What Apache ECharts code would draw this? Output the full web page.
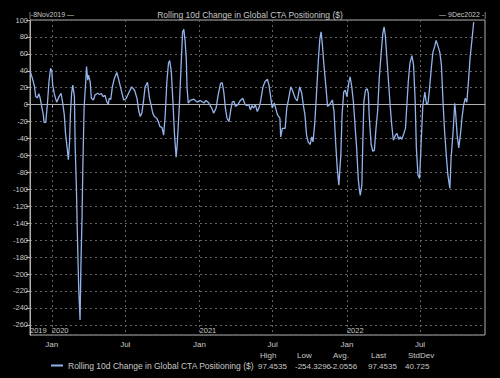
<!DOCTYPE html>
<html><head><meta charset="utf-8">
<script src="https://cdn.jsdelivr.net/npm/echarts@6/dist/echarts.min.js"></script>
<style>html,body{margin:0;padding:0;background:#000}#c{width:500px;height:378px}</style>
</head><body><div id="c"></div>
<script>
const seriesName = 'Rolling 10d Change in Global CTA Positioning ($)';
const rangeStart = '2019-11-08';
const rangeEnd = '2022-12-09';
const rangeLabels = ['|-8Nov2019 \u2014', '\u2014 9Dec2022 -|'];
const dates = [
'2019-11-08','2019-11-14','2019-11-19','2019-11-22','2019-11-26','2019-11-30','2019-12-03','2019-12-07','2019-12-11','2019-12-13',
'2019-12-17','2019-12-21','2019-12-25','2019-12-29','2020-01-01','2020-01-03','2020-01-07','2020-01-13','2020-01-19','2020-01-24',
'2020-01-28','2020-02-01','2020-02-04','2020-02-08','2020-02-11','2020-02-14','2020-02-16','2020-02-19','2020-02-22','2020-02-26',
'2020-02-28','2020-03-02','2020-03-04','2020-03-07','2020-03-08','2020-03-11','2020-03-13','2020-03-16','2020-03-18','2020-03-21',
'2020-03-25','2020-03-27','2020-03-30','2020-04-01','2020-04-05','2020-04-08','2020-04-13','2020-04-17','2020-04-23','2020-04-28',
'2020-05-03','2020-05-07','2020-05-12','2020-05-16','2020-05-20','2020-05-22','2020-05-26','2020-05-30','2020-06-04','2020-06-10',
'2020-06-14','2020-06-19','2020-06-27','2020-07-03','2020-07-09','2020-07-17','2020-07-24','2020-07-30','2020-08-03','2020-08-07',
'2020-08-11','2020-08-15','2020-08-19','2020-08-25','2020-08-30','2020-09-03','2020-09-07','2020-09-11','2020-09-17','2020-09-21',
'2020-09-25','2020-09-30','2020-10-04','2020-10-08','2020-10-12','2020-10-16','2020-10-19','2020-10-23','2020-10-27','2020-10-31',
'2020-11-04','2020-11-07','2020-11-12','2020-11-16','2020-11-20','2020-11-23','2020-11-26','2020-11-29','2020-12-01','2020-12-04',
'2020-12-09','2020-12-18','2020-12-26','2021-01-03','2021-01-12','2021-01-17','2021-01-24','2021-01-31','2021-02-05','2021-02-11',
'2021-02-16','2021-02-22','2021-02-26','2021-03-02','2021-03-06','2021-03-10','2021-03-15','2021-03-19','2021-03-23','2021-03-27',
'2021-03-31','2021-04-06','2021-04-12','2021-04-18','2021-04-23','2021-04-27','2021-05-03','2021-05-07','2021-05-11','2021-05-15',
'2021-05-19','2021-05-24','2021-05-28','2021-06-01','2021-06-07','2021-06-12','2021-06-18','2021-06-22','2021-06-26','2021-06-30',
'2021-07-05','2021-07-09','2021-07-13','2021-07-19','2021-07-21','2021-07-25','2021-08-01','2021-08-05','2021-08-09','2021-08-15',
'2021-08-19','2021-08-26','2021-08-31','2021-09-06','2021-09-11','2021-09-15','2021-09-19','2021-09-23','2021-09-27','2021-10-02',
'2021-10-06','2021-10-09','2021-10-13','2021-10-17','2021-10-22','2021-10-26','2021-10-29','2021-11-01','2021-11-05','2021-11-10',
'2021-11-14','2021-11-19','2021-11-26','2021-11-30','2021-12-04','2021-12-08','2021-12-12','2021-12-17','2021-12-20','2021-12-24',
'2021-12-28','2022-01-01','2022-01-06','2022-01-09','2022-01-13','2022-01-17','2022-01-21','2022-01-25','2022-01-29','2022-02-01',
'2022-02-03','2022-02-07','2022-02-09','2022-02-12','2022-02-16','2022-02-20','2022-02-23','2022-02-25','2022-03-02','2022-03-06',
'2022-03-10','2022-03-14','2022-03-18','2022-03-22','2022-03-27','2022-03-31','2022-04-03','2022-04-06','2022-04-10','2022-04-14',
'2022-04-18','2022-04-22','2022-04-26','2022-05-01','2022-05-05','2022-05-09','2022-05-13','2022-05-17','2022-05-22','2022-05-26',
'2022-05-29','2022-06-02','2022-06-06','2022-06-11','2022-06-15','2022-06-19','2022-06-22','2022-06-26','2022-06-30','2022-07-04',
'2022-07-08','2022-07-13','2022-07-17','2022-07-21','2022-07-25','2022-07-29','2022-08-02','2022-08-06','2022-08-10','2022-08-14',
'2022-08-19','2022-08-23','2022-08-27','2022-08-31','2022-09-04','2022-09-08','2022-09-13','2022-09-16','2022-09-21','2022-09-25',
'2022-09-27','2022-10-01','2022-10-05','2022-10-09','2022-10-13','2022-10-17','2022-10-21','2022-10-25','2022-10-29','2022-11-02',
'2022-11-07','2022-11-11'
];
const values = [
40,31,22,10,8,13,8,-2,-12,-21,
-21,0,27,43,40,24,13,3,9.5,13.5,
2,-12,-34,-51,-65,-44,-12,13,23,9.5,
-51,-99,-146,-205,-221,-254.3296,-193,-130,-71,-4,
27,45,29,35,27,7.5,5.5,11.5,13.5,12,
13,9.5,11,3.5,0.5,7.5,6,21,31,38,
31,21,5.5,7,13.5,21,17,7.5,-6,-14,
-10,3.5,21,26.5,7.5,-0.5,-10,-14,-16,-20,
-26,-27,-36,-12,27,49,52,39,3.5,-36,
-62,-44,-0.5,43,86,89,76,55,20,2,
5,6.5,3,5,2,5,2,-4,-10,-4,
11.5,25,26,15,-4,-16,-20,-7,3,4,
-2,0,5,7.5,1,-1,0,-6,-1,-4,
0,-8,-4,3.5,21,27,30,23,9.5,-4,
2,-5,-12,-16,-38,-28,-28,-4,5.5,21,
17,7.5,4.5,21,13.5,-0.5,-12,-36,-44,-47,
-38,-44,-24,7.5,51,78,86,72,47,21,
-2,0,5.5,-8,-44,-75,-95,-59,-12,15,
17,9.5,27,33,21,3.5,-24,-51,-87,-101,
-107,-95,-51,3.5,17,19,13.5,-12,-47,-55,
-54,-28,-8,31,62,84,92,82,55,27,
-0.5,-24,-42,-36,-34,-41,-38,-41,-34,-28,
-4,27,49,58,47,5,-51,-83,-87,-44,
-1,15,1,2,21,43,62,68,76,70,
62,47,3.5,-32,-59,-83,-99,-63,-32,1.6,
-8,-36,-51,-36,-16,-0.5,7.5,3,27,55,
78,97.4535
];
const monthTickDates = ['2020-01-01','2020-07-01','2021-01-01','2021-07-01','2022-01-01','2022-07-01'];
const monthTickLabels = ['Jan','Jul','Jan','Jul','Jan','Jul'];
const yearTickDates = ['2019-11-08','2020-01-01','2021-01-01','2022-01-01'];
const yearTickLabels = ['2019','2020','2021','2022'];
const statHeaders = ['High','Low','Avg.','Last','StdDev'];
const statValues = ['97.4535','-254.3296','-2.0556','97.4535','40.725'];

const FONT = 'Liberation Sans, Arial, sans-serif';
const TXT = '#c8c8c8';
const ts = d => Date.UTC(+d.slice(0,4), +d.slice(5,7)-1, +d.slice(8,10));
const monthTicks = monthTickDates.map(ts);
const yearTicks = yearTickDates.map(ts);
function labelFor(ticks, labels, v){
  let best = -1, bd = Infinity;
  ticks.forEach((t,i)=>{ const dd = Math.abs(t - v); if (dd < bd) { bd = dd; best = i; } });
  return bd < 86400000 ? labels[best] : '';
}
const statX = [258, 295, 330, 368, 405];
const statHX = [260, 297, 333, 371, 408];
const graphics = [];
statHeaders.forEach((h,i)=>graphics.push({type:'text', left: statHX[i], top: 351, style:{text:h, fill:TXT, font:'8px '+FONT}}));
statValues.forEach((v,i)=>graphics.push({type:'text', left: statX[i], top: 362, style:{text:v, fill:TXT, font:'8px '+FONT}}));
graphics.push({type:'text', left: 29, top: 11, style:{text: rangeLabels[0], fill:TXT, font:'7px '+FONT}});
graphics.push({type:'text', right: 14, top: 11, style:{text: rangeLabels[1], fill:TXT, font:'7px '+FONT}});

const chart = echarts.init(document.getElementById('c'), null, {renderer:'svg'});
chart.setOption({
  backgroundColor: '#000',
  animation: false,
  title: {text: seriesName, left: 'center', top: 5, textStyle:{color:TXT, fontSize:8.5, fontWeight:'normal', fontFamily:FONT}},
  legend: {data:[seriesName], left: 51, top: 361, itemWidth: 12, itemHeight: 2, icon: 'rect', itemGap: 2, padding: 0,
    textStyle:{color:TXT, fontSize:8.5, fontFamily:FONT}},
  graphic: graphics,
  grid: {left: 30, right: 15, top: 20, bottom: 43, show: true, borderColor: '#b0b0b0', borderWidth: 1, backgroundColor:'#000'},
  xAxis: [{
    type: 'value', min: ts(rangeStart), max: ts(rangeEnd),
    axisLine: {show: true, lineStyle:{color:'#b0b0b0'}},
    axisTick: {show: true, length: 3, lineStyle:{color:'#b0b0b0'}, customValues: monthTicks},
    axisLabel: {color: TXT, fontSize: 8, fontFamily: FONT, margin: 5, customValues: monthTicks,
      formatter: v => labelFor(monthTicks, monthTickLabels, v)},
    splitLine: {show: true, lineStyle:{color:'#636363', type:[2,3], width:1}}
  },{
    type: 'value', min: ts(rangeStart), max: ts(rangeEnd), position: 'bottom',
    axisLine: {show:false}, axisTick:{show:false}, splitLine:{show:false},
    axisLabel: {inside: true, color: TXT, fontSize: 7.5, fontFamily: FONT, margin: 1, align: 'left',
      customValues: yearTicks, formatter: v => labelFor(yearTicks, yearTickLabels, v)}
  }],
  yAxis: {
    type: 'value', min: -272, max: 100, splitNumber: 18, minInterval: 20, maxInterval: 20,
    axisLine: {show: true, lineStyle:{color:'#b0b0b0'}},
    axisTick: {show: true, length: 4, lineStyle:{color:'#b0b0b0'}},
    axisLabel: {color: TXT, fontSize: 7.5, fontFamily: FONT, margin: 2, showMinLabel: false},
    splitLine: {show: true, lineStyle:{color:'#636363', type:[2,3], width:1}}
  },
  series: [{
    name: seriesName, type: 'line', xAxisIndex: 0, showSymbol: false, symbol: 'none',
    lineStyle: {color: '#93b3ea', width: 1.3}, itemStyle: {color: '#93b3ea'},
    data: dates.map((d,i)=>[ts(d), values[i]])
  }]
});
</script></body></html>
